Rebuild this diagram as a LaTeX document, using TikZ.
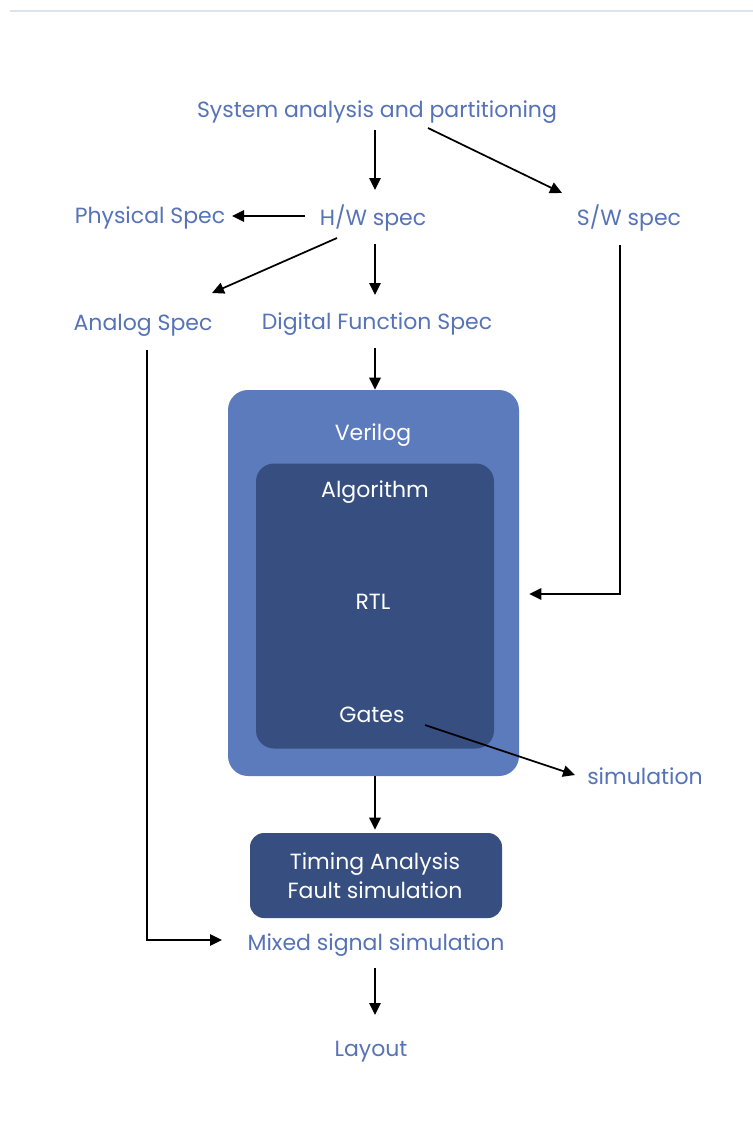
\documentclass[tikz,border=0pt]{standalone}
\usepackage{fontspec}
\setmainfont{Poppins}
\usetikzlibrary{calc,arrows.meta}
\definecolor{txtblue}{HTML}{5673B8}
\definecolor{boxouter}{HTML}{5B7BBD}
\definecolor{boxinner}{HTML}{374E80}
\definecolor{rulegray}{HTML}{DDE3EE}
\tikzset{
  lbl/.style={text=txtblue, font=\fontsize{16.5}{19}\selectfont, inner sep=0pt},
  wlbl/.style={text=white, font=\fontsize{16.5}{19}\selectfont, inner sep=0pt, align=center},
  arr/.style={draw=black, line width=1.3pt, -{Triangle[length=9pt,width=8.5pt]}},
}
\begin{document}
\begin{tikzpicture}[x=0.75pt,y=-0.75pt]
\useasboundingbox (0,0) rectangle (753,1135);
\fill[white] (0,0) rectangle (753,1135);
% thin rule at the top of the page
\draw[rulegray, line width=1.5pt] (10,11) -- (753,11);

% specification stage
\node[lbl] (sys) at (377,112) {System analysis and partitioning};
\node[lbl] (hw) at (373,218) {H/W spec};
\node[lbl] (phys) at (150,218) {Physical Spec};
\node[lbl] (sw) at (629,218) {S/W spec};
\node[lbl] (analog) at (143,325) {Analog Spec};
\node[lbl] (digital) at (377,324) {Digital Function Spec};

% Verilog design block
\node[fill=boxouter, rounded corners=15pt, minimum width=218.25pt, minimum height=289.5pt, inner sep=0pt] (verilog) at (373.5,583) {};
\node[fill=boxinner, rounded corners=13.5pt, minimum width=178.5pt, minimum height=213.75pt, inner sep=0pt] (core) at (375,606) {};
\node[wlbl] (vlabel) at (373,435) {Verilog};
\node[wlbl] (algo) at (375,492) {Algorithm};
\node[wlbl] (rtl) at (373,602) {RTL};
\node[wlbl] (gates) at (372,715) {Gates};
\node[lbl] (sim) at (645,776) {simulation};

% verification and layout
\node[fill=boxinner, rounded corners=10.5pt, minimum width=189pt, minimum height=63.75pt, inner sep=0pt] (timing) at (376,875.5) {};
\node[wlbl, font=\fontsize{16.5}{21.75}\selectfont] (timtxt) at (375,876) {Timing Analysis\\Fault simulation};
\node[lbl] (mixed) at (376,945) {Mixed signal simulation};
\node[lbl] (layout) at (371,1052) {Layout};

% connectors
\draw[arr] ($(sys)+(-2,18)$) -- ($(hw)+(2,-28)$);
\draw[arr] ($(sys)+(51,16)$) -- ($(sw)+(-67,-25)$);
\draw[arr] ($(hw)+(-68,-2)$) -- ($(phys)+(82,-2)$);
\draw[arr] ($(hw)+(-36,20)$) -- ($(analog)+(69,-32)$);
\draw[arr] ($(hw)+(2,26)$) -- ($(digital)+(-2,-29)$);
\draw[arr] ($(digital)+(-2,24)$) -- ($(verilog.north)+(1.5,0)$);
\draw[arr] ($(sw)+(-9,27)$) |- ($(verilog.east)+(10,11)$);
\draw[arr] ($(gates)+(53,10)$) -- ($(sim)+(-70,-1)$);
\draw[arr] ($(verilog.south)+(1.5,0)$) -- ($(timing.north)+(-1,-3)$);
\draw[arr] ($(analog)+(4,25)$) |- ($(mixed)+(-154,-5)$);
\draw[arr] ($(mixed)+(-1,23)$) -- ($(layout)+(4,-37)$);
\end{tikzpicture}
\end{document}
